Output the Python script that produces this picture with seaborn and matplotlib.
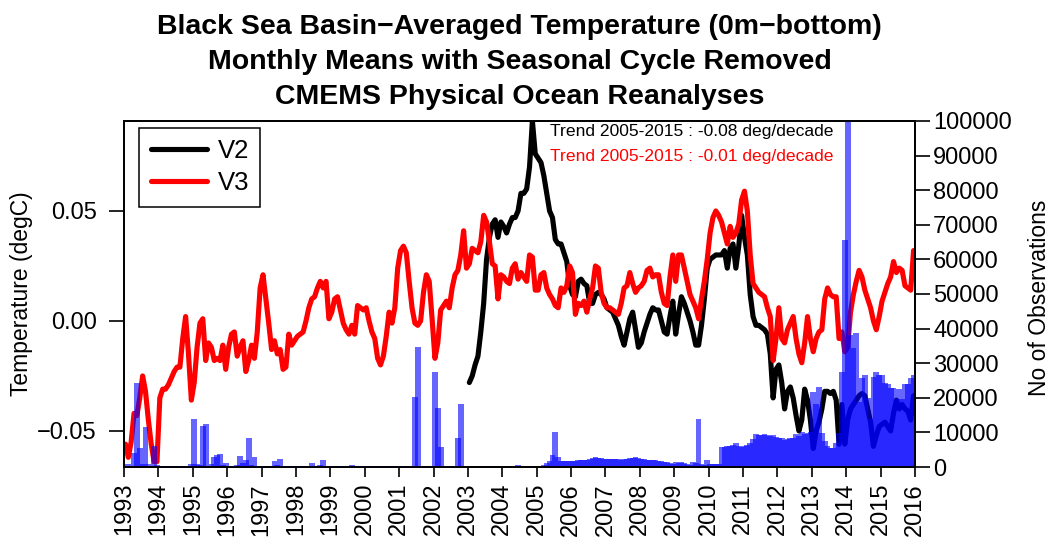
import numpy as np
import pandas as pd
import matplotlib
matplotlib.use("Agg")
import matplotlib.pyplot as plt
import seaborn as sns

# ---------------- data ----------------
start_year = 1993
v2_start_year = 2003

v3_temp = [
    -0.056, -0.062, -0.055, -0.042, -0.043, -0.035, -0.025, -0.032, -0.045, -0.056, -0.064, -0.064,  # 1993
    -0.035, -0.031, -0.031, -0.029, -0.026, -0.023, -0.021, -0.021, -0.008, 0.002, -0.015, -0.036,   # 1994
    -0.028, -0.012, -0.001, 0.001, -0.018, -0.010, -0.012, -0.018, -0.017, -0.018, -0.011, -0.022,   # 1995
    -0.012, -0.006, -0.005, -0.016, -0.012, -0.009, -0.023, -0.018, -0.011, -0.017, -0.005, 0.015,   # 1996
    0.021, 0.010, -0.001, -0.013, -0.009, -0.015, -0.013, -0.022, -0.021, -0.006, -0.011, -0.009,    # 1997
    -0.007, -0.006, -0.005, 0.000, 0.006, 0.010, 0.011, 0.015, 0.018, 0.015, 0.018, 0.001,          # 1998
    0.004, 0.010, 0.011, 0.005, -0.001, -0.004, -0.006, -0.002, -0.006, 0.007, 0.006, 0.005,         # 1999
    0.006, 0.000, -0.005, -0.008, -0.017, -0.020, -0.016, -0.007, 0.004, -0.001, 0.006, 0.024,       # 2000
    0.032, 0.034, 0.031, 0.018, 0.006, -0.001, -0.002, 0.000, 0.013, 0.021, 0.018, 0.001,            # 2001
    -0.017, -0.010, 0.005, 0.007, 0.009, 0.006, 0.015, 0.021, 0.023, 0.030, 0.041, 0.024,            # 2002
    0.026, 0.033, 0.032, 0.031, 0.036, 0.048, 0.045, 0.036, 0.026, 0.025, 0.010, 0.021,             # 2003
    0.020, 0.018, 0.017, 0.024, 0.026, 0.019, 0.022, 0.020, 0.018, 0.030, 0.029, 0.014,             # 2004
    0.014, 0.021, 0.022, 0.015, 0.012, 0.010, 0.007, 0.006, 0.015, 0.013, 0.016, 0.025,             # 2005
    0.022, 0.003, 0.008, 0.007, 0.009, 0.004, 0.010, 0.015, 0.025, 0.024, 0.013, 0.008,             # 2006
    0.006, 0.006, 0.005, 0.004, 0.003, 0.008, 0.015, 0.016, 0.022, 0.017, 0.013, 0.015,             # 2007
    0.016, 0.018, 0.023, 0.024, 0.020, 0.021, 0.021, 0.013, 0.008, 0.007, 0.020, 0.030,             # 2008
    0.018, 0.030, 0.030, 0.024, 0.018, 0.012, 0.009, 0.006, 0.001, 0.010, 0.018, 0.028,             # 2009
    0.040, 0.047, 0.050, 0.048, 0.045, 0.040, 0.035, 0.043, 0.038, 0.040, 0.044, 0.055,             # 2010
    0.059, 0.050, 0.030, 0.017, 0.015, 0.013, 0.012, 0.011, 0.006, 0.002, -0.018, -0.008,           # 2011
    0.006, -0.008, -0.010, -0.004, -0.001, 0.002, -0.008, -0.015, -0.019, -0.010, 0.002, -0.008,     # 2012
    -0.014, -0.008, -0.005, -0.004, 0.010, 0.015, 0.012, 0.011, 0.011, -0.008, -0.005, -0.014,      # 2013
    -0.012, 0.004, 0.012, 0.018, 0.023, 0.020, 0.014, 0.010, 0.006, 0.000, -0.004, 0.002,           # 2014
    0.009, 0.013, 0.017, 0.020, 0.027, 0.022, 0.024, 0.023, 0.016, 0.015, 0.014, 0.032,             # 2015
]

v2_temp = [
    -0.028, -0.025, -0.020, -0.016, -0.005, 0.008, 0.028, 0.038, 0.044, 0.046, 0.038, 0.045,         # 2003
    0.043, 0.040, 0.044, 0.047, 0.047, 0.050, 0.058, 0.058, 0.060, 0.070, 0.0909, 0.076,             # 2004
    0.074, 0.072, 0.066, 0.058, 0.050, 0.047, 0.037, 0.035, 0.035, 0.031, 0.027, 0.016,              # 2005
    0.012, 0.011, 0.018, 0.019, 0.017, 0.016, 0.008, 0.008, 0.012, 0.013, 0.012, 0.010,              # 2006
    0.006, 0.005, 0.004, 0.001, -0.002, -0.007, -0.011, -0.005, 0.001, 0.004, -0.004, -0.012,        # 2007
    -0.010, -0.005, -0.001, 0.003, 0.006, 0.005, 0.005, 0.000, -0.005, -0.006, 0.002, 0.009,         # 2008
    -0.006, 0.003, 0.011, 0.008, 0.004, 0.000, -0.005, -0.011, -0.011, -0.002, 0.010, 0.024,         # 2009
    0.028, 0.029, 0.030, 0.030, 0.030, 0.032, 0.024, 0.033, 0.035, 0.024, 0.034, 0.048,              # 2010
    0.038, 0.030, 0.012, 0.002, -0.002, -0.002, -0.003, -0.004, -0.006, -0.015, -0.035, -0.022,      # 2011
    -0.020, -0.028, -0.040, -0.032, -0.030, -0.035, -0.043, -0.050, -0.045, -0.031, -0.036, -0.045,  # 2012
    -0.058, -0.050, -0.046, -0.040, -0.032, -0.032, -0.033, -0.032, -0.036, -0.056, -0.038, -0.056,  # 2013
    -0.045, -0.040, -0.038, -0.036, -0.034, -0.033, -0.034, -0.040, -0.046, -0.057, -0.052, -0.048,  # 2014
    -0.047, -0.046, -0.048, -0.050, -0.042, -0.036, -0.040, -0.038, -0.040, -0.041, -0.045, -0.034,  # 2015
]

n_obs = [
    300, 1000, 300, 4000, 24200, 5500, 800, 11600, 800, 300, 6000, 500,              # 1993
    300, 300, 300, 300, 300, 300, 300, 300, 300, 300, 300, 800,                      # 1994
    14000, 800, 500, 11900, 12300, 300, 1000, 2800, 3500, 3700, 500, 1300,          # 1995
    300, 300, 300, 500, 3200, 1200, 2000, 8300, 500, 2800, 300, 300,                 # 1996
    300, 300, 300, 300, 1700, 600, 2400, 400, 300, 300, 300, 300,                    # 1997
    300, 300, 300, 300, 300, 1300, 300, 300, 600, 2000, 300, 300,                    # 1998
    300, 300, 300, 300, 300, 300, 300, 600, 300, 300, 300, 300,                      # 1999
    300, 200, 300, 0, 300, 300, 200, 300, 300, 0, 300, 300,                          # 2000
    200, 300, 200, 300, 300, 20300, 34800, 300, 200, 200, 300, 200,                  # 2001
    27500, 17100, 5900, 300, 200, 0, 200, 300, 8500, 18100, 200, 0,                  # 2002
    0, 0, 0, 0, 0, 0, 300, 0, 300, 0, 0, 300,                                        # 2003
    0, 0, 0, 0, 0, 600, 0, 0, 0, 0, 0, 0,                                            # 2004
    0, 0, 700, 1200, 1700, 3500, 10200, 3000, 1800, 1700, 1700, 1800,                # 2005
    1800, 1800, 1900, 2000, 2000, 2100, 2300, 2600, 2800, 2700, 2500, 2300,          # 2006
    2300, 2200, 2400, 2300, 2200, 2000, 2300, 2400, 2500, 2700, 2900, 2600,          # 2007
    2300, 2200, 2100, 2000, 2000, 1900, 1800, 1700, 1500, 1400, 1200, 1000,          # 2008
    1400, 1300, 1400, 1200, 800, 600, 1500, 1200, 14000, 800, 700, 2000,             # 2009
    1000, 1000, 800, 1000, 5700, 5800, 6000, 6200, 6500, 6800, 6000, 5900,           # 2010
    6200, 6500, 7000, 8000, 9500, 9300, 9300, 9500, 9300, 9000, 9200, 8700,          # 2011
    8500, 8400, 7900, 8100, 8300, 8300, 9500, 9000, 10200, 9600, 9800, 10000,        # 2012
    21800, 18200, 23200, 9800, 7400, 6000, 5400, 5500, 7000, 9800, 27500, 65600,     # 2013
    100000, 38100, 34300, 38600, 18900, 25600, 26600, 20000, 14000, 26000, 27500, 26600,  # 2014
    26600, 24400, 24000, 22700, 22700, 19700, 22400, 19700, 24000, 24000, 25600, 26600,   # 2015
]

year_ticks = list(range(1993, 2017))
left_ticks = [-0.05, 0.00, 0.05]
right_ticks = list(range(0, 100001, 10000))
series_names = ["V2", "V3"]
trend_texts = ["Trend 2005-2015 : -0.08 deg/decade", "Trend 2005-2015 : -0.01 deg/decade"]
title_lines = ["Black Sea Basin\u2212Averaged Temperature (0m\u2212bottom)",
               "Monthly Means with Seasonal Cycle Removed",
               "CMEMS Physical Ocean Reanalyses"]

# ---------------- build frames ----------------
t_v3 = start_year + (np.arange(len(v3_temp)) + 0.5) / 12.0
t_v2 = v2_start_year + (np.arange(len(v2_temp)) + 0.5) / 12.0
df = pd.concat([
    pd.DataFrame({"time": t_v2, "temp": v2_temp, "series": series_names[0]}),
    pd.DataFrame({"time": t_v3, "temp": v3_temp, "series": series_names[1]}),
])
t_obs = start_year + (np.arange(len(n_obs)) + 0.5) / 12.0

# ---------------- style ----------------
sns.set_theme(style="ticks")
plt.rcParams["font.family"] = ["Liberation Sans", "DejaVu Sans"]
plt.rcParams["axes.unicode_minus"] = True
for key in ["text.color", "axes.labelcolor", "xtick.color", "ytick.color", "axes.edgecolor"]:
    plt.rcParams[key] = "black"

W, H = 1051, 553
fig = plt.figure(figsize=(W / 100, H / 100), dpi=100)
L, R, T, B = 124, 915, 121, 467
ax = fig.add_axes([L / W, 1 - B / H, (R - L) / W, (B - T) / H])

palette = {"V2": "black", "V3": "#ff0000"}
sns.lineplot(data=df, x="time", y="temp", hue="series", palette=palette,
             linewidth=3.7, ax=ax, legend=False, estimator=None, sort=False)

ax.set_xlim(1993, 2016)
ax.set_ylim(-0.0664, 0.0909)
ax.set_xticks(year_ticks)
ax.set_xticklabels([str(y) for y in year_ticks], rotation=90)
ax.set_yticks(left_ticks)
ax.set_yticklabels([f"{v:.2f}".replace("-", "\u2212") for v in left_ticks])
ax.set_xlabel("")
ax.set_ylabel("Temperature (degC)", fontsize=16.5, va="center")
ax.yaxis.set_label_coords((22 - L) / (R - L), 0.5)
ax.tick_params(axis="y", direction="out", length=10.5, width=1.2, labelsize=17, pad=9)
ax.tick_params(axis="x", direction="out", length=7.5, width=1.2, labelsize=17, pad=4)
for s in ax.spines.values():
    s.set_visible(True)
    s.set_linewidth(1.3)
    s.set_color("black")

# observations on a twin axis
ax2 = ax.twinx()
ax2.bar(t_obs, n_obs, width=2.0 / 12, color=(0, 0, 1, 0.6), linewidth=0, align="center")
ax2.set_ylim(0, 100000)
ax2.set_yticks(right_ticks)
ax2.set_yticklabels([str(v) for v in right_ticks])
ax2.set_ylabel("No of Observations", fontsize=16.5, va="center")
ax2.yaxis.set_label_coords((1039 - L) / (R - L), 0.49)
ax2.tick_params(axis="y", direction="out", length=11, width=1.2, labelsize=17, pad=2)
for s in ax2.spines.values():
    s.set_linewidth(1.3)
    s.set_color("black")
ax2.set_xlim(1993, 2016)

# legend
from matplotlib.lines import Line2D
handles = [Line2D([0], [0], color=palette[n], lw=3.7) for n in series_names]
leg = ax2.legend(handles, series_names, loc="upper left", bbox_to_anchor=(0.019, 0.98),
                 fontsize=18.5, frameon=True, fancybox=False, framealpha=1,
                 edgecolor="black", handlelength=2.2, handletextpad=0.4,
                 borderpad=0.45, labelspacing=0.3, borderaxespad=0)
leg.get_frame().set_linewidth(1.1)

# trend annotations
ax2.text(0.5386, 0.971, trend_texts[0], transform=ax2.transAxes, color="black",
         fontsize=12.6, ha="left", va="center")
ax2.text(0.5386, 0.896, trend_texts[1], transform=ax2.transAxes, color="#ff0000",
         fontsize=12.6, ha="left", va="center")

# title
for k, line in enumerate(title_lines):
    fig.text(519.5 / W, 1 - (27 + 35 * k) / H, line, ha="center", va="center",
             fontsize=20.5, fontweight="bold", color="black")

fig.savefig("out.png", dpi=100)
